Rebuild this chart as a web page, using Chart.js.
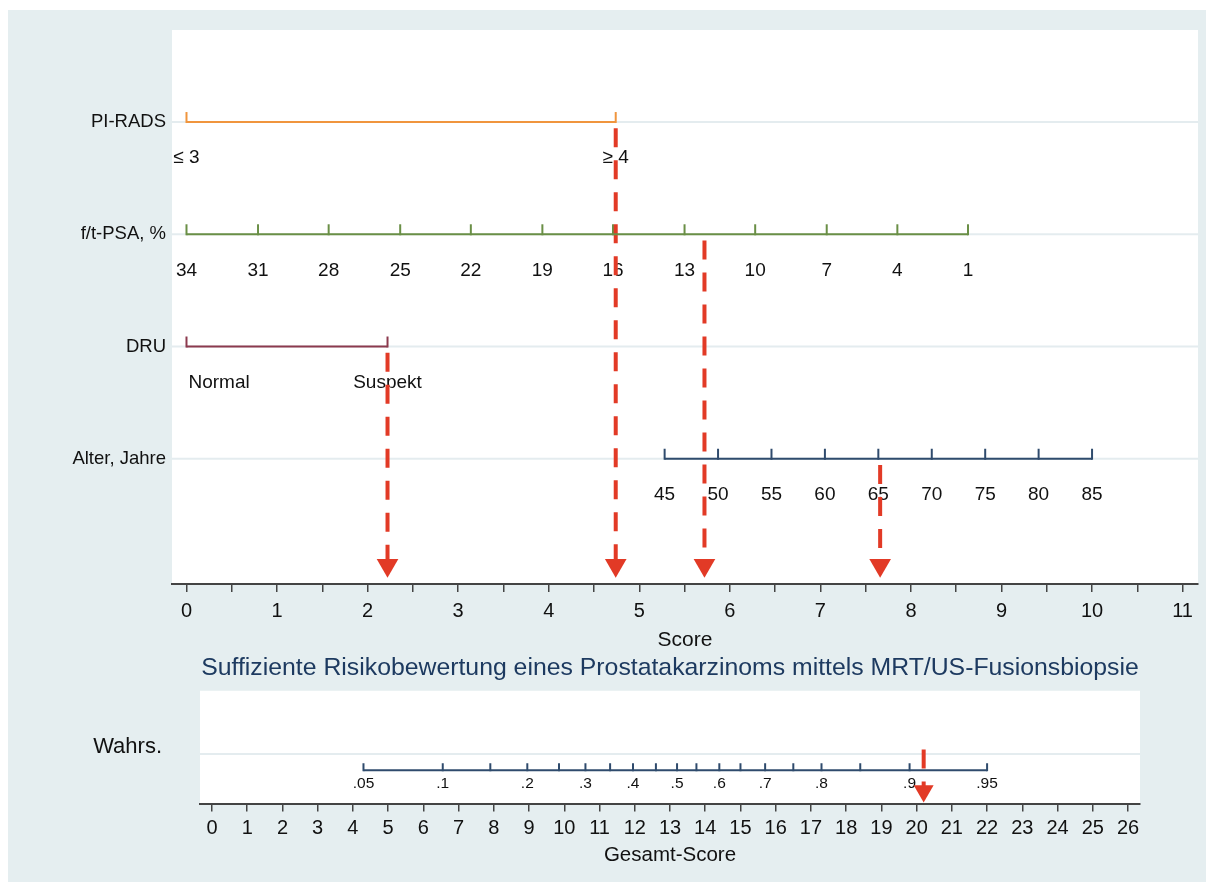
<!DOCTYPE html>
<html lang="de">

<head>
    <meta charset="UTF-8">
    <title>Nomogramm</title>
    <script src="https://cdn.jsdelivr.net/npm/chart.js"></script>
    <style>
        body {
            margin: 0;
            background: #fff;
            font-family: "Liberation Sans", Arial, sans-serif;
        }

        .panel {
            position: absolute;
            left: 8px;
            top: 10px;
            width: 1198px;
            height: 872px;
            background: #e5eef0;
        }

        canvas {
            position: absolute;
            left: 0;
        }
    </style>
</head>

<body>
    <div class="panel"></div>
    <canvas id="topChart" width="1206" height="660" style="top:0"></canvas>
    <canvas id="bottomChart" width="1206" height="235" style="top:647px"></canvas>

    <script>
        // score scale (top)
        const scoreTicks = [0, 0.5, 1, 1.5, 2, 2.5, 3, 3.5, 4, 4.5, 5, 5.5, 6, 6.5, 7, 7.5, 8, 8.5, 9, 9.5, 10, 10.5, 11];

        const rowNames = ["PI-RADS", "f/t-PSA, %", "DRU", "Alter, Jahre"];
        const rowLevels = [4, 3, 2, 1];

        const piradsLabels = ["≤ 3", "≥ 4"];
        const piradsScores = [0, 4.74];

        const psaLabels = ["34", "31", "28", "25", "22", "19", "16", "13", "10", "7", "4", "1"];
        const psaScores = [0, 0.79, 1.57, 2.36, 3.14, 3.93, 4.71, 5.50, 6.28, 7.07, 7.85, 8.63];

        const druLabels = ["Normal", "Suspekt"];
        const druScores = [0, 2.22];

        const ageLabels = ["45", "50", "55", "60", "65", "70", "75", "80", "85"];
        const ageScores = [5.28, 5.87, 6.46, 7.05, 7.64, 8.23, 8.82, 9.41, 10.0];

        // selected values (red arrows)
        const arrowScores = [2.22, 4.74, 5.72, 7.66];
        const arrowLevels = [2, 4, 3, 1];

        // total score scale (bottom)
        const totalTicks = [0, 1, 2, 3, 4, 5, 6, 7, 8, 9, 10, 11, 12, 13, 14, 15, 16, 17, 18, 19, 20, 21, 22, 23, 24, 25, 26];
        const probLabels = [".05", ".1", "", ".2", "", ".3", "", ".4", "", ".5", "", ".6", "", ".7", "", ".8", "", ".9", ".95"];
        const probScores = [4.3, 6.55, 7.9, 8.95, 9.85, 10.6, 11.3, 11.95, 12.6, 13.2, 13.75, 14.4, 15.0, 15.7, 16.5, 17.3, 18.4, 19.8, 22.0];
        const totalArrow = 20.2;

        const FONT = "'Liberation Sans', Arial, sans-serif";
        const RED = "#e23a26";
        const colors = ["#f0953d", "#6a8f46", "#8c3a4e", "#2f4b6d"];

        // white plot area + light row lines, then scale ticks and labels
        const nomogramRows = {
            id: "nomogramRows",
            beforeDraw(chart, args, opts) {
                const { ctx, chartArea: a, scales: { y } } = chart;
                ctx.save();
                ctx.fillStyle = "#fff";
                ctx.fillRect(a.left, a.top, a.right - a.left, a.bottom - a.top);
                ctx.strokeStyle = "#e4ecef";
                ctx.lineWidth = 2;
                opts.rows.forEach((r) => {
                    const py = y.getPixelForValue(r.gridY);
                    ctx.beginPath();
                    ctx.moveTo(a.left, py);
                    ctx.lineTo(a.right, py);
                    ctx.stroke();
                });
                ctx.restore();
            },
            beforeDatasetsDraw(chart, args, opts) {
                const { ctx, chartArea: a, scales: { x, y } } = chart;
                ctx.save();
                opts.rows.forEach((r) => {
                    // row name
                    ctx.fillStyle = "#111";
                    ctx.font = opts.nameFont;
                    ctx.textAlign = "right";
                    ctx.textBaseline = "middle";
                    ctx.fillText(r.name, a.left - opts.nameGap, y.getPixelForValue(r.nameY));

                    const py = y.getPixelForValue(r.lineY);
                    // ticks
                    ctx.strokeStyle = r.color;
                    ctx.lineWidth = 2;
                    r.scores.forEach((s) => {
                        const px = x.getPixelForValue(s);
                        ctx.beginPath();
                        ctx.moveTo(px, py + 1);
                        ctx.lineTo(px, py - opts.tickLen);
                        ctx.stroke();
                    });
                    // value labels
                    ctx.fillStyle = "#111";
                    ctx.font = opts.labelFont;
                    r.labels.forEach((t, i) => {
                        if (!t) return;
                        const px = x.getPixelForValue(r.scores[i]);
                        const w = ctx.measureText(t).width;
                        if (px - w / 2 < a.left) {
                            ctx.textAlign = "left";
                            ctx.fillText(t, px + 2, py + opts.labelGap);
                        } else {
                            ctx.textAlign = "center";
                            ctx.fillText(t, px, py + opts.labelGap);
                        }
                    });
                });
                ctx.restore();
            }
        };

        function lineSet(scores, level, color) {
            return {
                data: [{ x: scores[0], y: level }, { x: scores[scores.length - 1], y: level }],
                showLine: true,
                borderColor: color,
                borderWidth: 2,
                pointRadius: 0
            };
        }

        function arrowSet(score, fromY, toY, radius) {
            return {
                data: [{ x: score, y: fromY }, { x: score, y: toY }],
                showLine: true,
                borderColor: RED,
                borderWidth: 4,
                borderDash: [19, 13],
                pointStyle: "triangle",
                rotation: 180,
                pointRadius: [0, radius],
                pointBackgroundColor: RED,
                pointBorderWidth: 0
            };
        }

        const rowScores = [piradsScores, psaScores, druScores, ageScores];
        const rowLabels = [piradsLabels, psaLabels, druLabels, ageLabels];

        const topRows = rowNames.map((n, i) => ({
            name: n,
            nameY: rowLevels[i],
            gridY: rowLevels[i],
            lineY: rowLevels[i],
            scores: rowScores[i],
            labels: rowLabels[i],
            color: colors[i]
        }));

        const topSets = rowScores.map((s, i) => lineSet(s, rowLevels[i], colors[i]))
            .concat(arrowScores.map((s, i) => arrowSet(s, arrowLevels[i] - 0.055, 0.05, 12.5)));

        new Chart(document.getElementById("topChart"), {
            type: "scatter",
            data: { datasets: topSets },
            options: {
                responsive: false,
                animation: false,
                layout: { autoPadding: false, padding: { left: 172, right: 8, top: 30, bottom: 9 } },
                plugins: {
                    legend: { display: false },
                    tooltip: { enabled: false },
                    nomogramRows: {
                        rows: topRows,
                        nameFont: "18.5px " + FONT,
                        labelFont: "19px " + FONT,
                        nameGap: 6,
                        tickLen: 10,
                        labelGap: 36
                    }
                },
                scales: {
                    x: {
                        type: "linear",
                        min: -0.16,
                        max: 11.17,
                        afterBuildTicks: (s) => { s.ticks = scoreTicks.map((v) => ({ value: v })); },
                        ticks: {
                            autoSkip: false,
                            maxRotation: 0,
                            padding: 7,
                            color: "#111",
                            font: { size: 20, family: FONT },
                            callback: (v) => Number.isInteger(v) ? v : ""
                        },
                        grid: { drawOnChartArea: false, tickLength: 8, color: "#444", lineWidth: 1.5 },
                        border: { color: "#444", width: 2 },
                        title: { display: true, text: "Score", color: "#111", font: { size: 21, family: FONT, lineHeight: 1 }, padding: { top: 0, bottom: 0 } }
                    },
                    y: { display: false, min: -0.116, max: 4.82 }
                }
            },
            plugins: [nomogramRows]
        });

        // bottom: probability
        new Chart(document.getElementById("bottomChart"), {
            type: "scatter",
            data: {
                datasets: [
                    lineSet(probScores, 0.295, colors[3]),
                    arrowSet(totalArrow, 0.48, 0.11, 11.5)
                ]
            },
            options: {
                responsive: false,
                animation: false,
                layout: { autoPadding: false, padding: { left: 200, right: 66, top: 0, bottom: 16 } },
                plugins: {
                    legend: { display: false },
                    tooltip: { enabled: false },
                    title: {
                        display: true,
                        text: "Suffiziente Risikobewertung eines Prostatakarzinoms mittels MRT/US-Fusionsbiopsie",
                        color: "#1d3a60",
                        font: { size: 24.8, weight: "normal", family: FONT },
                        padding: { top: 6, bottom: 8 }
                    },
                    nomogramRows: {
                        rows: [{
                            name: "Wahrs.",
                            nameY: 0.5,
                            gridY: 0.44,
                            lineY: 0.295,
                            scores: probScores,
                            labels: probLabels,
                            color: colors[3]
                        }],
                        nameFont: "22px " + FONT,
                        labelFont: "15.5px " + FONT,
                        nameGap: 38,
                        tickLen: 7,
                        labelGap: 13
                    }
                },
                scales: {
                    x: {
                        type: "linear",
                        min: -0.34,
                        max: 26.34,
                        afterBuildTicks: (s) => { s.ticks = totalTicks.map((v) => ({ value: v })); },
                        ticks: {
                            autoSkip: false,
                            maxRotation: 0,
                            padding: 5,
                            color: "#111",
                            font: { size: 20, family: FONT }
                        },
                        grid: { drawOnChartArea: false, tickLength: 8, color: "#444", lineWidth: 1.5 },
                        border: { color: "#444", width: 2 },
                        title: { display: true, text: "Gesamt-Score", color: "#111", font: { size: 20.5, family: FONT, lineHeight: 1 }, padding: { top: 0, bottom: 0 } }
                    },
                    y: { display: false, min: 0, max: 1 }
                }
            },
            plugins: [nomogramRows]
        });
    </script>
</body>

</html>
